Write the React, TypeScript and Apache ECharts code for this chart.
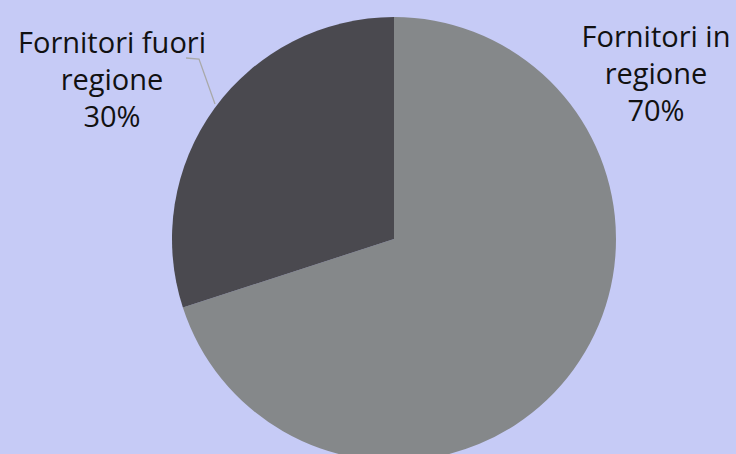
import React, { useEffect, useRef } from "react";
import * as echarts from "echarts";

const categories = ["Fornitori in\nregione", "Fornitori fuori\nregione"];
const values = [70, 30];
const colors = ["#85888A", "#4A494F"];

export default function App() {
  const ref = useRef<HTMLDivElement>(null);
  useEffect(() => {
    if (!ref.current) return;
    const chart = echarts.init(ref.current, undefined, { renderer: "svg" });
    chart.setOption({
      animation: false,
      backgroundColor: "#C6CBF6",
      series: [
        {
          type: "pie",
          center: [394, 239],
          radius: 222,
          startAngle: 90,
          clockwise: true,
          data: categories.map((name, i) => ({
            name,
            value: values[i],
            itemStyle: { color: colors[i] },
            labelLine: { show: i === 1 },
          })),
          label: {
            show: true,
            formatter: (p: any) => `${p.name}\n${p.percent.toFixed(0)}%`,
            fontFamily: "Open Sans",
            fontSize: 29,
            lineHeight: 37,
            color: "#111111",
            align: "center",
            overflow: "none",
            width: 300,
          },
          labelLine: {
            show: true,
            lineStyle: { color: "#A9A9A9", width: 1.3 },
          },
          labelLayout: (p: any) =>
            p.dataIndex === 0
              ? { x: 656, y: 72, align: "center", verticalAlign: "middle" }
              : {
                  x: 112,
                  y: 78,
                  align: "center",
                  verticalAlign: "middle",
                  labelLinePoints: [
                    [186, 58],
                    [199, 59],
                    [215, 104],
                  ],
                },
        },
      ],
    });
    return () => chart.dispose();
  }, []);
  return (
    <div
      ref={ref}
      style={{ position: "fixed", left: 0, top: 0, width: 736, height: 454 }}
    />
  );
}
